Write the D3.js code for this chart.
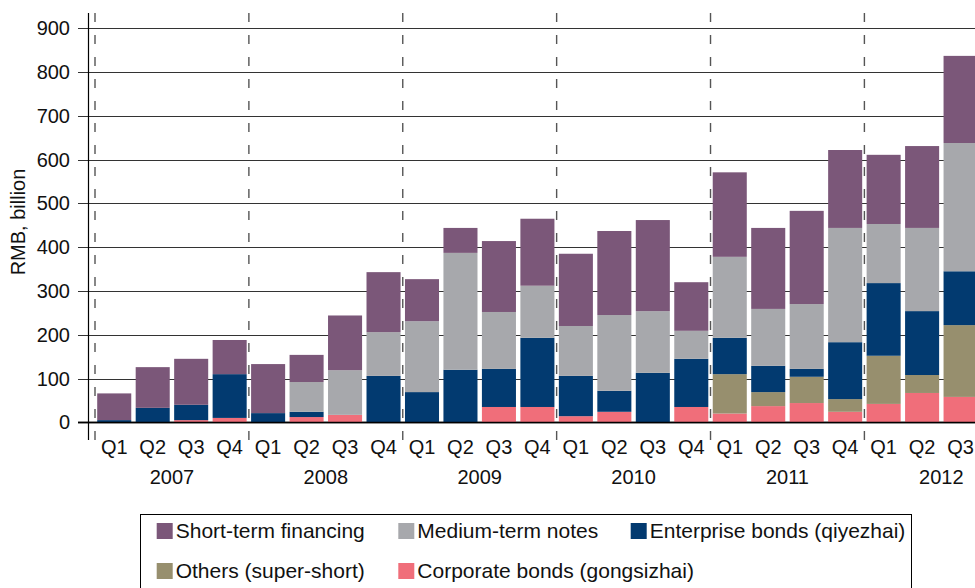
<!DOCTYPE html>
<html>
<head>
<meta charset="utf-8">
<script src="https://cdn.jsdelivr.net/npm/d3@7"></script>
<style>
  body { margin: 0; background: #fff; }
  svg { display: block; font-family: "Liberation Sans", Arial, sans-serif; }
</style>
</head>
<body>
<div id="chart"></div>
<script>
'use strict';

var years = ['2007', '2008', '2009', '2010', '2011', '2012'];
var quarters = ['Q1', 'Q2', 'Q3', 'Q4'];
// 2007Q1 .. 2012Q3
var periods = [];
years.forEach(function(y) {
  quarters.forEach(function(q) { periods.push(y + ' ' + q); });
});
periods = periods.slice(0, 23);

var corporate  = [0, 0, 5, 10, 0, 12, 17, 0, 0, 0, 35, 35, 14, 24, 0, 35, 20, 37, 44, 24, 42, 67, 58];
var others     = [0, 0, 0, 0, 0, 0, 0, 0, 0, 0, 0, 0, 0, 0, 0, 0, 90, 32, 60, 29, 110, 41, 164];
var enterprise = [5, 33, 35, 100, 21, 12, 0, 106, 69, 120, 87, 158, 92, 48, 113, 110, 83, 60, 18, 130, 166, 146, 123];
var mediumTerm = [0, 0, 0, 0, 0, 68, 102, 100, 162, 267, 130, 119, 114, 173, 141, 64, 185, 130, 148, 261, 135, 190, 293];
var shortTerm  = [61, 93, 105, 78, 112, 62, 125, 137, 96, 57, 162, 153, 165, 192, 208, 111, 193, 185, 213, 178, 158, 187, 199];

var seriesKeys = ['corporate', 'others', 'enterprise', 'medium', 'short'];
var seriesColors = ['#f06e7a', '#978f6e', '#023a70', '#a7a8ac', '#7b5779'];
var yTicks = [0, 100, 200, 300, 400, 500, 600, 700, 800, 900];

var legendItems = [
  {key: 'short', label: 'Short-term financing', col: 0, row: 0},
  {key: 'medium', label: 'Medium-term notes', col: 1, row: 0},
  {key: 'enterprise', label: 'Enterprise bonds (qiyezhai)', col: 2, row: 0},
  {key: 'others', label: 'Others (super-short)', col: 0, row: 1},
  {key: 'corporate', label: 'Corporate bonds (gongsizhai)', col: 1, row: 1}
];

var width = 975, height = 588;
var step = 38.47;
var x0 = 95;

var table = periods.map(function(p, i) {
  return {
    period: p,
    corporate: corporate[i],
    others: others[i],
    enterprise: enterprise[i],
    medium: mediumTerm[i],
    short: shortTerm[i]
  };
});

var svg = d3.select('#chart').append('svg')
  .attr('width', width)
  .attr('height', height);

var x = d3.scaleBand()
  .domain(periods)
  .range([x0, x0 + periods.length * step])
  .paddingInner(0.115)
  .paddingOuter(0.0575);

var y = d3.scaleLinear()
  .domain([0, 900])
  .range([422.3, 28.3]);

var color = d3.scaleOrdinal().domain(seriesKeys).range(seriesColors);

// gridlines + tick labels
var grid = svg.append('g');
grid.selectAll('line')
  .data(yTicks)
  .enter().append('line')
  .attr('x1', 78)
  .attr('x2', width)
  .attr('y1', function(d) { return Math.round(y(d)) + 0.5; })
  .attr('y2', function(d) { return Math.round(y(d)) + 0.5; })
  .attr('stroke', function(d) { return d === 0 ? '#000' : '#333'; })
  .attr('stroke-width', function(d) { return d === 0 ? 1.6 : 1; });

grid.selectAll('text')
  .data(yTicks)
  .enter().append('text')
  .attr('x', 70)
  .attr('y', function(d) { return y(d); })
  .attr('dy', '0.35em')
  .attr('text-anchor', 'end')
  .style('font-size', '20px')
  .style('fill', '#111')
  .text(function(d) { return d; });

// stacked bars
var stack = d3.stack().keys(seriesKeys);
var layers = stack(table);

svg.append('g').selectAll('g')
  .data(layers)
  .enter().append('g')
  .attr('fill', function(d) { return color(d.key); })
  .selectAll('rect')
  .data(function(d) { return d; })
  .enter().append('rect')
  .attr('x', function(d) { return x(d.data.period); })
  .attr('width', x.bandwidth())
  .attr('y', function(d) { return y(d[1]); })
  .attr('height', function(d) { return Math.max(0, y(d[0]) - y(d[1])); });

// redraw baseline over bars
svg.append('line')
  .attr('x1', 78).attr('x2', width)
  .attr('y1', Math.round(y(0)) + 0.5).attr('y2', Math.round(y(0)) + 0.5)
  .attr('stroke', '#000')
  .attr('stroke-width', 1.6);

// y axis line
svg.append('line')
  .attr('x1', 88.5).attr('x2', 88.5)
  .attr('y1', 13).attr('y2', 440)
  .attr('stroke', '#000')
  .attr('stroke-width', 1.2);

// year separators
svg.append('g').selectAll('line')
  .data(years)
  .enter().append('line')
  .attr('x1', function(d) { return x(d + ' Q1') - x.step() * x.paddingInner() / 2; })
  .attr('x2', function(d) { return x(d + ' Q1') - x.step() * x.paddingInner() / 2; })
  .attr('y1', 13)
  .attr('y2', 443)
  .attr('stroke', '#555')
  .attr('stroke-width', 1.4)
  .attr('stroke-dasharray', '9,13');

// quarter labels
svg.append('g').selectAll('text')
  .data(periods)
  .enter().append('text')
  .attr('x', function(d) { return x(d) + x.bandwidth() / 2; })
  .attr('y', 447)
  .attr('dy', '0.35em')
  .attr('text-anchor', 'middle')
  .style('font-size', '20px')
  .style('fill', '#111')
  .text(function(d) { return d.split(' ')[1]; });

// year labels
svg.append('g').selectAll('text')
  .data(years)
  .enter().append('text')
  .attr('x', function(d) { return x(d + ' Q1') - x.step() * x.paddingInner() / 2 + 2 * x.step(); })
  .attr('y', 477)
  .attr('dy', '0.35em')
  .attr('text-anchor', 'middle')
  .style('font-size', '20px')
  .style('fill', '#111')
  .text(function(d) { return d; });

// y title
svg.append('text')
  .attr('transform', 'translate(18,222) rotate(-90)')
  .attr('dy', '0.35em')
  .attr('text-anchor', 'middle')
  .style('font-size', '20px')
  .style('fill', '#111')
  .text('RMB, billion');

// legend
var legend = svg.append('g');
legend.append('rect')
  .attr('x', 140.5).attr('y', 514.5)
  .attr('width', 771).attr('height', 100)
  .attr('fill', 'none')
  .attr('stroke', '#000')
  .attr('stroke-width', 1);

var colX = [156.7, 398.3, 630.7];
var rowY = [531, 571];

var li = legend.selectAll('g.item')
  .data(legendItems)
  .enter().append('g')
  .attr('class', 'item')
  .attr('transform', function(d) { return 'translate(' + colX[d.col] + ',' + rowY[d.row] + ')'; });

li.append('rect')
  .attr('x', 0).attr('y', -8)
  .attr('width', 16).attr('height', 16)
  .attr('fill', function(d) { return color(d.key); });

li.append('text')
  .attr('x', 19)
  .attr('dy', '0.35em')
  .style('font-size', '21px')
  .style('fill', '#111')
  .text(function(d) { return d.label; });
</script>
</body>
</html>
